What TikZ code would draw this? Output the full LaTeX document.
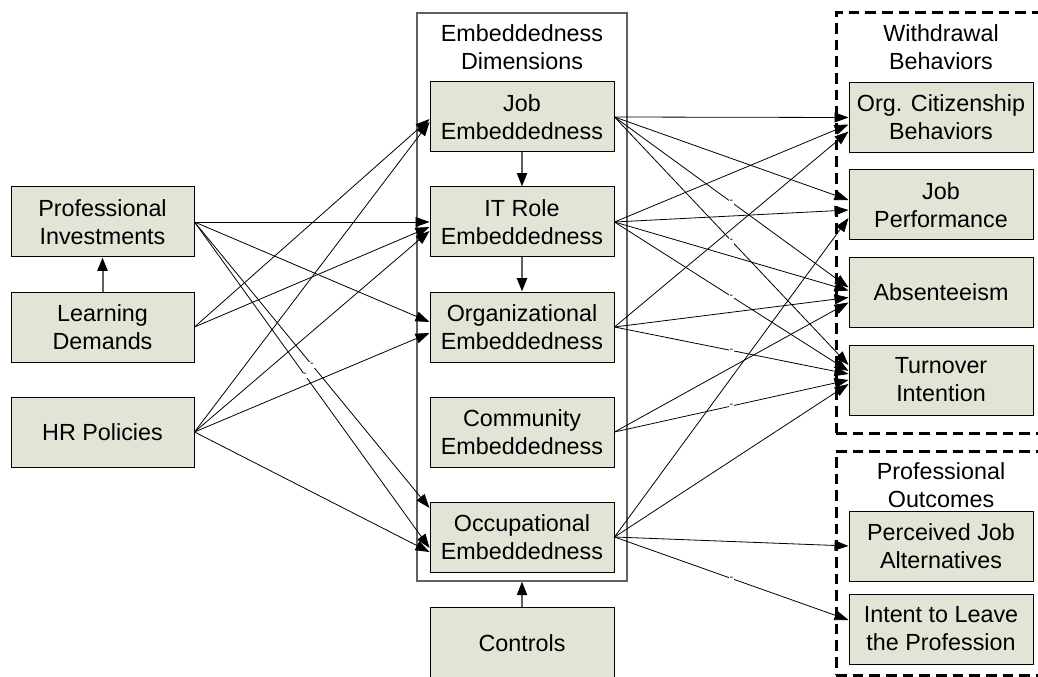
\documentclass[tikz,border=0pt]{standalone}
\usepackage{fontspec}
\setmainfont{Liberation Sans}
\usetikzlibrary{arrows.meta,calc}
\definecolor{boxfill}{RGB}{227,228,214}
\definecolor{linegray}{RGB}{96,96,96}
\begin{document}
\begin{tikzpicture}[x=0.75pt,y=-0.75pt,
  txt/.style={font=\fontsize{17.5}{21}\selectfont, align=center},
  box/.style={txt, draw=black, line width=0.75pt, fill=boxfill, minimum width=138pt, minimum height=52.5pt, inner sep=0pt},
  title/.style={txt, inner sep=0pt},
  solidframe/.style={draw=linegray, line width=1pt, minimum width=157.5pt, minimum height=426pt, inner sep=0pt},
  dashframe/.style={draw=black, line width=2.25pt, dash pattern=on 8pt off 4.5pt, minimum width=157.5pt, inner sep=0pt},
  conn/.style={-{Triangle[length=10.5pt,width=7.5pt]}, line width=0.6pt, draw=black},
  vconn/.style={-{Triangle[length=10pt,width=7.5pt,color=black]}, line width=1.5pt, draw=linegray},
  neg/.style={fill=white, inner sep=0.8pt, font=\fontsize{8}{8}\selectfont}
]
\useasboundingbox (0,0) rectangle (1038,677);
\clip (0,0) rectangle (1038,677);

% containers
\node[solidframe] (emb) at (522,297) {};
\node[title] (embt) at (522,47.5) {Embeddedness\\Dimensions};
\node[dashframe, minimum height=315pt] (wd) at (941,223) {};
\node[title] (wdt) at (941,47.5) {Withdrawal\\Behaviors};
\node[dashframe, minimum height=168pt] (po) at (941,563) {};
\node[title] (pot) at (941,485.5) {Professional\\Outcomes};

% left boxes
\node[box, minimum width=137.25pt] (pi) at (102.5,222) {Professional\\Investments};
\node[box, minimum width=137.25pt] (ld) at (102.5,327) {Learning\\Demands};
\node[box, minimum width=137.25pt] (hr) at (102.5,432) {HR Policies};

% middle boxes
\node[box] (job) at (522,117) {Job\\Embeddedness};
\node[box] (it) at (522,222) {IT Role\\Embeddedness};
\node[box] (org) at (522,327) {Organizational\\Embeddedness};
\node[box] (com) at (522,432) {Community\\Embeddedness};
\node[box] (occ) at (522,537) {Occupational\\Embeddedness};
\node[box, minimum height=54pt] (ctrl) at (522,643) {Controls};

% right boxes
\node[box] (ocb) at (941,117.5) {Org. Citizenship\\Behaviors};
\node[box] (jp) at (941,205) {Job\\Performance};
\node[box] (abs) at (941,292.5) {Absenteeism};
\node[box] (turn) at (941,380) {Turnover\\Intention};
\node[box] (pja) at (941,546) {Perceived Job\\Alternatives};
\node[box] (itl) at (941,629) {Intent to Leave\\the Profession};

% vertical arrows
\draw[vconn] (ld.north) -- (pi.south);
\draw[vconn] (job.south) -- (it.north);
\draw[vconn] (it.south) -- (org.north);
\draw[vconn] (ctrl.north) -- (emb.south);

% left to middle
\draw[conn] (pi.east) -- (it.west);
\draw[conn] (pi.east) -- ($(org.west)+(0,-5)$);
\draw[conn] (pi.east) -- node[neg,pos=0.5]{-} ($(occ.west)+(0,-29)$);
\draw[conn] (pi.east) -- node[neg,pos=0.47]{-} ($(occ.west)+(0,11)$);
\draw[conn] (ld.east) -- ($(job.west)+(0,2)$);
\draw[conn] (ld.east) -- ($(it.west)+(0,5)$);
\draw[conn] (hr.east) -- ($(job.west)+(0,5)$);
\draw[conn] (hr.east) -- ($(it.west)+(0,9)$);
\draw[conn] (hr.east) -- ($(org.west)+(0,6)$);
\draw[conn] (hr.east) -- ($(occ.west)+(0,15)$);

% middle to right
\draw[conn] (job.east) -- (ocb.west);
\draw[conn] (job.east) -- ($(jp.west)+(0,-5)$);
\draw[conn] (job.east) -- node[neg,pos=0.5]{-} ($(abs.west)+(0,-5)$);
\draw[conn] (job.east) -- node[neg,pos=0.5]{-} ($(turn.west)+(0,-15)$);

\draw[conn] (it.east) -- ($(ocb.west)+(0,7)$);
\draw[conn] (it.east) -- ($(jp.west)+(0,5)$);
\draw[conn] (it.east) -- ($(abs.west)+(0,-2)$);
\draw[conn] (it.east) -- node[neg,pos=0.5]{-} ($(turn.west)+(0,-9)$);

\draw[conn] (org.east) -- ($(ocb.west)+(0,14)$);
\draw[conn] (org.east) -- ($(abs.west)+(0,5)$);
\draw[conn] (org.east) -- node[neg,pos=0.5]{-} ($(turn.west)+(0,-6)$);

\draw[conn] (com.east) -- ($(abs.west)+(0,10)$);
\draw[conn] (com.east) -- node[neg,pos=0.5]{-} ($(turn.west)+(0,0)$);

\draw[conn] (occ.east) -- ($(jp.west)+(0,13)$);
\draw[conn] (occ.east) -- ($(turn.west)+(0,4)$);
\draw[conn] (occ.east) -- (pja.west);
\draw[conn] (occ.east) -- node[neg,pos=0.5]{-} ($(itl.west)+(0,-9)$);
\end{tikzpicture}
\end{document}
